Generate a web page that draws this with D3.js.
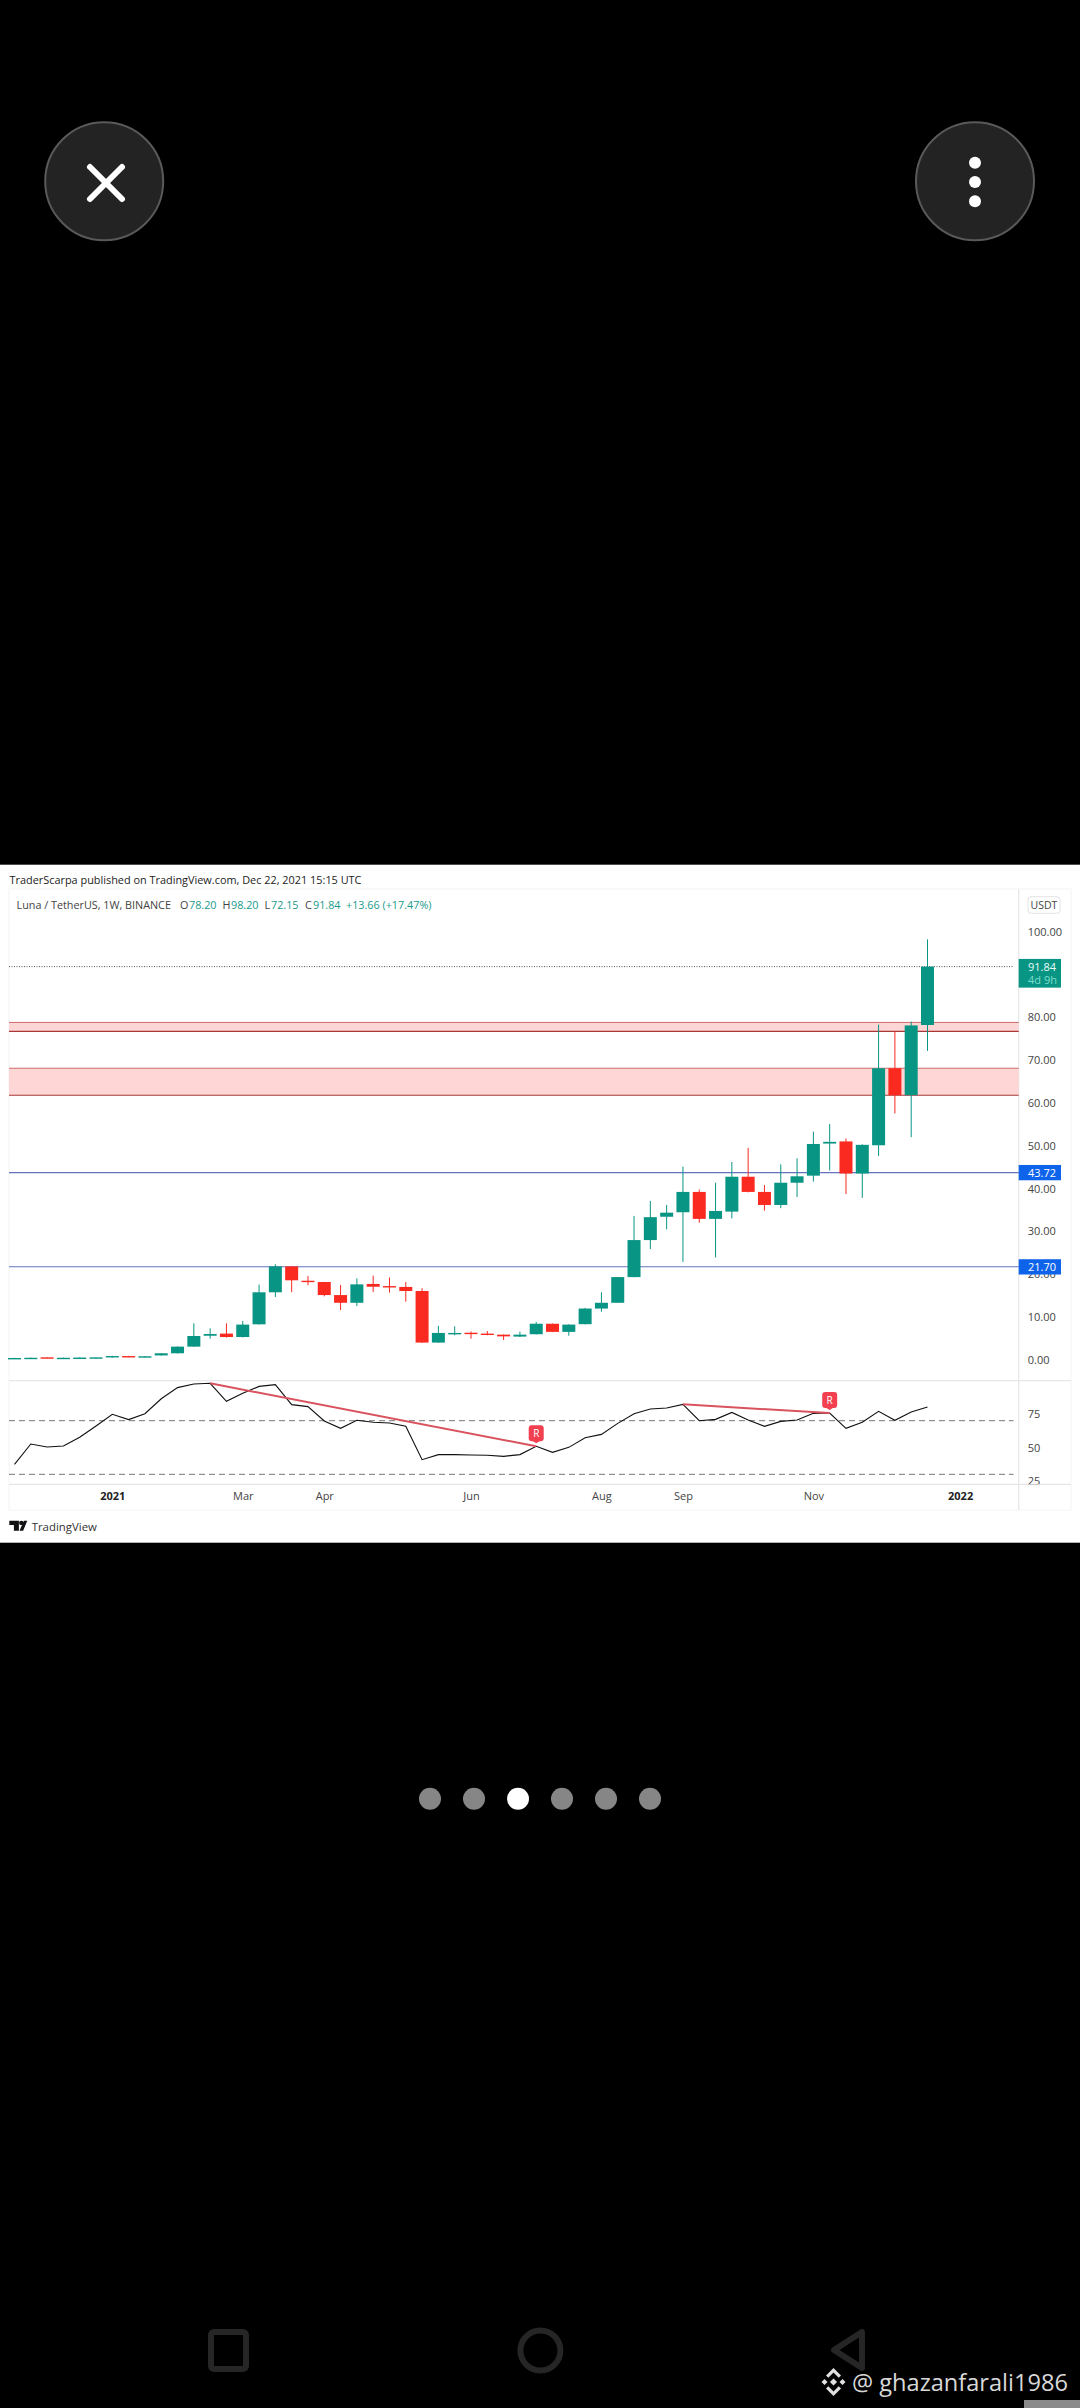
<!DOCTYPE html>
<html>
<head>
<meta charset="utf-8">
<script src="https://cdn.jsdelivr.net/npm/d3@7"></script>
<style>
  html, body { margin: 0; padding: 0; background: #000; }
  svg { display: block; }
  text { font-family: "Open Sans", "Noto Sans", sans-serif; }
</style>
</head>
<body>
<div id="chart"></div>
<script>
// weekly candles
const opens = [0.30,0.40,0.55,0.40,0.45,0.50,0.55,0.85,0.65,1.00,1.50,3.05,5.60,6.10,5.30,8.27,15.75,21.80,18.45,18.15,15.10,13.30,17.70,17.20,17.00,16.05,4.00,6.10,6.30,6.10,5.85,5.40,5.95,8.40,6.50,8.30,11.95,13.30,19.30,27.95,33.40,34.45,39.20,32.90,34.60,42.75,39.20,36.15,41.35,43.00,50.50,51.00,43.50,50.10,68.10,61.80,78.20];
const closes = [0.40,0.45,0.40,0.45,0.50,0.55,0.85,0.65,0.80,1.50,3.05,5.54,6.00,5.30,8.20,15.75,21.80,18.55,18.15,15.10,13.30,17.60,17.05,17.00,16.05,4.00,6.25,6.25,6.10,5.85,5.45,5.85,8.40,6.50,8.20,11.95,13.30,19.30,27.95,33.30,34.35,39.20,32.90,34.75,42.75,39.20,36.15,41.35,42.85,50.40,50.90,43.50,50.20,68.10,61.80,78.10,91.84];
const highs = [0.45,0.50,0.60,0.50,0.55,0.60,0.90,0.90,0.85,1.55,3.10,8.50,7.33,8.50,9.05,17.54,22.30,21.90,19.56,18.20,17.45,19.00,19.65,19.20,18.15,16.70,7.90,7.80,6.60,6.70,5.90,6.55,8.80,8.45,8.30,12.10,15.75,19.35,33.60,37.10,36.15,45.10,39.75,41.35,46.20,49.50,40.80,45.65,47.05,53.30,55.05,51.70,50.30,78.30,76.70,79.00,98.20];
const lows = [0.25,0.35,0.35,0.35,0.40,0.45,0.50,0.60,0.60,0.95,1.45,3.00,4.90,5.15,5.20,8.20,14.65,15.75,17.40,14.80,11.60,12.55,15.80,15.67,13.55,3.95,3.95,5.70,4.90,5.70,4.60,5.30,5.90,6.45,5.60,8.25,11.20,13.25,19.25,25.85,30.45,22.85,32.00,23.90,33.00,39.10,34.80,35.40,38.00,41.60,44.20,38.70,37.80,47.60,57.55,52.00,72.15];

const rsi = [37.4,52.6,50.4,51.1,57.6,66.0,74.8,70.8,75.2,86.4,94.7,97.4,97.9,84.5,90.4,95.6,96.9,82.0,80.5,69.8,64.3,70.3,68.8,68.3,65.8,40.9,44.7,44.7,44.4,44.2,43.4,44.7,50.9,46.4,50.1,57.3,59.8,68.0,75.2,78.7,79.5,82.2,70.0,71.0,76.2,70.5,65.8,69.5,70.5,75.5,75.7,64.3,68.8,77.0,70.3,76.5,80.2];
const divergenceFrom = [12, 41];
const divergenceTo = [32, 50];
const rsiBands = [70, 30];

// 90.00 sits under the last price tag in the picture, so it is not listed
const priceTicks = [0, 10, 20, 30, 40, 50, 60, 70, 80, 100];
const rsiTicks = [25, 50, 75];
const timeTickWeeks = [6, 14, 19, 28, 36, 41, 49, 58];
const timeTickLabels = ["2021", "Mar", "Apr", "Jun", "Aug", "Sep", "Nov", "2022"];
const boldTimeLabels = ["2021", "2022"];

const zones = [[76.7, 78.8], [61.8, 68.1]];
const levels = [43.72, 21.70];
const lastPrice = 91.84;
const pagerDots = [0, 1, 2, 3, 4, 5];
const activeDot = 2;

const green = "#089584";
const red = "#fb2a20";
const teal = "#1a9a8c";
const blueTag = "#0d63ea";

const svg = d3.select("#chart").append("svg").attr("width", 1080).attr("height", 2408);
svg.append("rect").attr("width", 1080).attr("height", 2408).attr("fill", "#000");

const x = d3.scaleLinear().domain([0, 56]).range([14.5, 927.5]);
const y = d3.scaleLinear().domain([0, 100]).range([1359.7, 931.7]);
const yRsi = d3.scaleLinear().domain([25, 75]).range([1481, 1414]);

const frame = { left: 9, right: 1071, top: 889, bottom: 1510, axis: 1018.7, pane: 1380.7, time: 1484.3 };

function drawPanel() {
  svg.append("rect").attr("x", 0).attr("y", 864.7).attr("width", 1080).attr("height", 678).attr("fill", "#fff");
  svg.append("rect").attr("x", frame.left).attr("y", frame.top)
    .attr("width", frame.right - frame.left).attr("height", frame.bottom - frame.top)
    .attr("fill", "none").attr("stroke", "#f4f4f4");
  const rules = [[frame.left, frame.pane, frame.right, frame.pane], [frame.left, frame.time, frame.right, frame.time], [frame.axis, frame.top, frame.axis, frame.bottom]];
  svg.append("g").selectAll("line").data(rules).join("line")
    .attr("x1", d => d[0]).attr("y1", d => d[1]).attr("x2", d => d[2]).attr("y2", d => d[3])
    .attr("stroke", "#e6e6e6").attr("stroke-width", 1.2);

  svg.append("text").attr("x", 9.5).attr("y", 883.5).attr("font-size", 10.9).attr("fill", "#222")
    .text("TraderScarpa published on TradingView.com, Dec 22, 2021 15:15 UTC");

  const head = [
    [16.5, "Luna / TetherUS, 1W, BINANCE", "#444"],
    [180, "O", "#444"], [189, "78.20", teal],
    [222.5, "H", "#444"], [231, "98.20", teal],
    [264.5, "L", "#444"], [271, "72.15", teal],
    [305, "C", "#444"], [313, "91.84", teal],
    [346, "+13.66 (+17.47%)", teal]
  ];
  svg.append("g").selectAll("text").data(head).join("text")
    .attr("x", d => d[0]).attr("y", 908.7).attr("font-size", 10.8).attr("fill", d => d[2]).text(d => d[1]);
}

function drawLevels() {
  const g = svg.append("g");
  g.selectAll(".zone").data(zones).join("rect").attr("class", "zone")
    .attr("x", frame.left).attr("width", frame.axis - frame.left)
    .attr("y", d => y(d[1])).attr("height", d => y(d[0]) - y(d[1]))
    .attr("fill", "#fed6d6");
  g.selectAll(".zone-top").data(zones).join("line").attr("class", "zone-top")
    .attr("x1", frame.left).attr("x2", frame.axis).attr("y1", d => y(d[1])).attr("y2", d => y(d[1]))
    .attr("stroke", "#d06a6a").attr("stroke-width", 1);
  g.selectAll(".zone-bottom").data(zones).join("line").attr("class", "zone-bottom")
    .attr("x1", frame.left).attr("x2", frame.axis).attr("y1", d => y(d[0])).attr("y2", d => y(d[0]))
    .attr("stroke", "#a83838").attr("stroke-width", 1.1);
  g.selectAll(".level").data(levels).join("line").attr("class", "level")
    .attr("x1", frame.left).attr("x2", frame.axis).attr("y1", d => y(d)).attr("y2", d => y(d))
    .attr("stroke", "#6672bd").attr("stroke-width", 1.1);
  g.append("line").attr("x1", frame.left).attr("x2", 1014).attr("y1", y(lastPrice)).attr("y2", y(lastPrice))
    .attr("stroke", "#555").attr("stroke-width", 1).attr("stroke-dasharray", "1 1.5");
}

function drawCandles() {
  const g = svg.append("g");
  const candleColor = i => closes[i] >= opens[i] ? green : red;
  const weeks = d3.range(opens.length);
  g.selectAll(".wick").data(weeks).join("line").attr("class", "wick")
    .attr("x1", x).attr("x2", x)
    .attr("y1", i => y(highs[i])).attr("y2", i => y(lows[i]))
    .attr("stroke", candleColor).attr("stroke-width", 1);
  g.selectAll(".body").data(weeks).join("rect").attr("class", "body")
    .attr("x", i => x(i) - 6.5).attr("width", 13)
    .attr("y", i => y(Math.max(opens[i], closes[i])))
    .attr("height", i => Math.max(1.4, Math.abs(y(opens[i]) - y(closes[i]))))
    .attr("fill", candleColor);
}

function drawRsi() {
  const g = svg.append("g");
  g.selectAll(".band").data(rsiBands).join("line").attr("class", "band")
    .attr("x1", frame.left).attr("x2", 1013.5).attr("y1", d => yRsi(d)).attr("y2", d => yRsi(d))
    .attr("stroke", "#777").attr("stroke-width", 1).attr("stroke-dasharray", "6 4");

  const line = d3.line().x((d, i) => x(i)).y(d => yRsi(d));
  g.append("path").attr("d", line(rsi)).attr("fill", "none").attr("stroke", "#111").attr("stroke-width", 1.1);

  g.selectAll(".divergence").data(divergenceFrom).join("line").attr("class", "divergence")
    .attr("x1", d => x(d)).attr("y1", d => yRsi(rsi[d]))
    .attr("x2", (d, i) => x(divergenceTo[i])).attr("y2", (d, i) => yRsi(rsi[divergenceTo[i]]))
    .attr("stroke", "#d9535f").attr("stroke-width", 2);

  const marker = g.selectAll(".marker").data(divergenceTo).join("g").attr("class", "marker")
    .attr("transform", d => `translate(${x(d)},${yRsi(rsi[d]) - 3})`);
  marker.append("rect").attr("x", -7.5).attr("y", -18).attr("width", 15).attr("height", 16).attr("rx", 3)
    .attr("fill", "#f24050");
  marker.append("path").attr("d", "M-4 -2.5 L0 0 L4 -2.5 Z").attr("fill", "#f24050");
  marker.append("text").attr("y", -6.5).attr("text-anchor", "middle").attr("font-size", 10)
    .attr("fill", "#fff").text("R");
}

function styleAxis(g) {
  g.select(".domain").remove();
  g.selectAll("text").style("font-family", '"Open Sans", "Noto Sans", sans-serif').attr("fill", "#444");
}

function drawAxes() {
  // clip is used inside the translated axis group, so it starts at 0
  svg.append("defs").append("clipPath").attr("id", "rsi-clip").append("rect")
    .attr("x", 0).attr("y", frame.pane).attr("width", 60).attr("height", frame.time - frame.pane);

  svg.append("g").attr("transform", `translate(${frame.axis},0)`)
    .call(d3.axisRight(y).tickValues(priceTicks).tickSize(0).tickPadding(9).tickFormat(d3.format(".2f")))
    .attr("font-size", 11).call(styleAxis);

  svg.append("g").attr("transform", `translate(${frame.axis},0)`).attr("clip-path", "url(#rsi-clip)")
    .call(d3.axisRight(yRsi).tickValues(rsiTicks).tickSize(0).tickPadding(9))
    .attr("font-size", 11).call(styleAxis);

  svg.append("g").attr("transform", `translate(0,${frame.time + 1})`)
    .call(d3.axisBottom(x).tickValues(timeTickWeeks).tickSize(0).tickPadding(7)
      .tickFormat((d, i) => timeTickLabels[i]))
    .attr("font-size", 11).call(styleAxis)
    .selectAll("text")
    .attr("font-weight", (d, i) => boldTimeLabels.includes(timeTickLabels[i]) ? 700 : 400)
    .attr("fill", (d, i) => boldTimeLabels.includes(timeTickLabels[i]) ? "#222" : "#444");

  // usdt button and the price tags
  svg.append("rect").attr("x", 1028).attr("y", 896.7).attr("width", 32).attr("height", 16.6).attr("rx", 3)
    .attr("fill", "#fff").attr("stroke", "#e3e3e3");
  svg.append("text").attr("x", 1044).attr("y", 908.6).attr("text-anchor", "middle").attr("font-size", 10.5)
    .attr("fill", "#444").text("USDT");

  svg.append("rect").attr("x", frame.axis).attr("y", y(lastPrice) - 7.7).attr("width", 42.3).attr("height", 28.7).attr("fill", green);
  svg.append("text").attr("x", 1028).attr("y", y(lastPrice) + 4).attr("font-size", 11).attr("fill", "#e8fbf7").text(lastPrice.toFixed(2));
  svg.append("text").attr("x", 1028).attr("y", y(lastPrice) + 17).attr("font-size", 11).attr("fill", "#7fdccb").text("4d 9h");

  const tag = svg.append("g").selectAll("g").data(levels).join("g")
    .attr("transform", d => `translate(${frame.axis},${y(d)})`);
  tag.append("rect").attr("y", -7.6).attr("width", 42.3).attr("height", 15.3).attr("fill", blueTag);
  tag.append("text").attr("x", 9.3).attr("y", 4).attr("font-size", 11).attr("fill", "#fff").text(d => d.toFixed(2));
}

function drawFooter() {
  const logo = svg.append("g").attr("transform", "translate(9.3,1520.7)").attr("fill", "#111");
  logo.append("path").attr("d", "M0 0 H9.6 V10 H4.6 V4.2 H0 Z");
  logo.append("circle").attr("cx", 12).attr("cy", 2.2).attr("r", 2.2);
  logo.append("path").attr("d", "M10.2 10 L14.6 0 H18 L13.8 10 Z");
  svg.append("text").attr("x", 31.7).attr("y", 1531).attr("font-size", 11.4).attr("fill", "#333").text("TradingView");
}

function drawPhoneChrome() {
  // top buttons
  const buttons = svg.append("g");
  buttons.selectAll("circle").data([104.2, 975]).join("circle")
    .attr("cx", d => d).attr("cy", 181.3).attr("r", 59)
    .attr("fill", "#232323").attr("stroke", "#595959").attr("stroke-width", 2);
  buttons.append("path").attr("d", "M90 167 L122 199 M122 167 L90 199")
    .attr("stroke", "#fff").attr("stroke-width", 6).attr("stroke-linecap", "round");
  buttons.selectAll(".menu-dot").data([162.7, 182, 201.3]).join("circle").attr("class", "menu-dot")
    .attr("cx", 975).attr("cy", d => d).attr("r", 6).attr("fill", "#fff");

  // pager
  const pagerX = d3.scaleLinear().domain([0, 5]).range([430, 650]);
  svg.append("g").selectAll("circle").data(pagerDots).join("circle")
    .attr("cx", d => pagerX(d)).attr("cy", 1798.7).attr("r", 11)
    .attr("fill", d => d === activeDot ? "#fff" : "#868686");

  // android nav bar
  const nav = svg.append("g").attr("fill", "none").attr("stroke", "#262626").attr("stroke-width", 6).attr("stroke-linejoin", "round");
  nav.append("rect").attr("x", 211).attr("y", 2332).attr("width", 35).attr("height", 37).attr("rx", 3);
  nav.append("circle").attr("cx", 540.4).attr("cy", 2350.4).attr("r", 20);
  nav.append("path").attr("d", "M834 2350 L862 2332 V2368 Z");

  // watermark
  const mark = svg.append("g").attr("transform", "translate(833.5,2382)").attr("fill", "#e0e0e0");
  mark.append("path").attr("d", "M0 -3.6 L3.6 0 L0 3.6 L-3.6 0 Z");
  mark.append("path").attr("d", "M-9 -3 L-6 0 L-9 3 L-12 0 Z M9 -3 L12 0 L9 3 L6 0 Z");
  mark.append("path").attr("d", "M0 -14 L7.5 -6.5 L5.2 -4.2 L0 -9.4 L-5.2 -4.2 L-7.5 -6.5 Z");
  mark.append("path").attr("d", "M0 14 L7.5 6.5 L5.2 4.2 L0 9.4 L-5.2 4.2 L-7.5 6.5 Z");
  svg.append("text").attr("x", 852).attr("y", 2391).attr("font-size", 23.6).attr("fill", "#d8d8d8")
    .text("@ ghazanfarali1986");
  svg.append("rect").attr("x", 1024).attr("y", 2400).attr("width", 56).attr("height", 8).attr("fill", "#8a8a8a");
}

drawPhoneChrome();
drawPanel();
drawLevels();
drawCandles();
drawRsi();
drawAxes();
drawFooter();
</script>
</body>
</html>
